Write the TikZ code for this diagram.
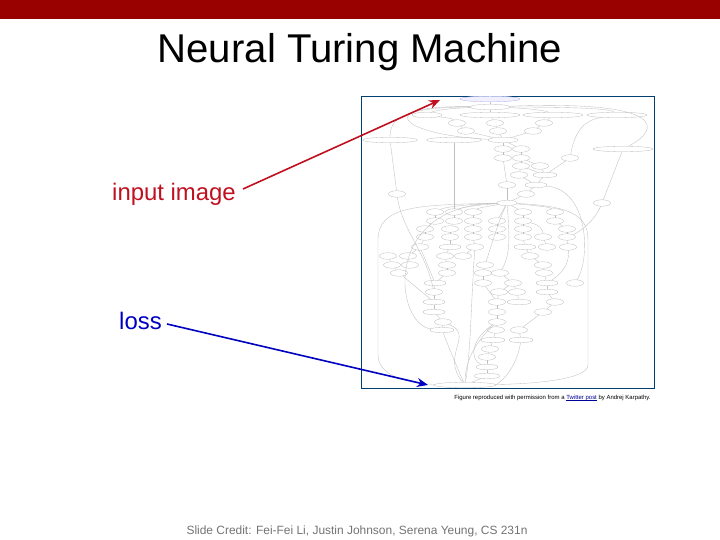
\documentclass[tikz,border=0pt]{standalone}
\usepackage{fontspec}
\setmainfont{Liberation Sans}
\usetikzlibrary{positioning,arrows.meta,shapes.geometric}
\definecolor{calloutred}{RGB}{192,16,32}
\definecolor{calloutblue}{RGB}{0,0,192}

\begin{document}
\begin{tikzpicture}[x=1bp,y=-1bp,>=Stealth,
  gnode/.style={draw=black!28,line width=0.3bp,ellipse,inner sep=0pt,minimum width=17bp,minimum height=6.5bp},
  gwide/.style={gnode,minimum height=5.5bp},
  gedge/.style={draw=black!25,line width=0.35bp},
  callout/.style={line width=1.6bp,-{Stealth[length=11bp,width=9bp]}}]
  \useasboundingbox (0,0) rectangle (720,540);
  \fill[red!60!black] (0,0) rectangle (720,19);
  % labels
  \node (title) at (360,52) {\fontsize{40.3}{44}\selectfont Neural Turing Machine};
  \node[inner sep=2bp,text=calloutred] (inputlabel) at (174,194) {\fontsize{24}{28}\selectfont input image};
  \node[inner sep=2bp,text=calloutblue] (losslabel) at (140.5,321) {\fontsize{24}{28}\selectfont loss};
  \node[text=black!55] (credit) at (357,531) {\fontsize{12}{14}\selectfont Slide Credit: Fei-Fei Li, Justin Johnson, Serena Yeung, CS 231n};
  \node (permission) at (552.5,398) {\fontsize{6}{7}\selectfont Figure reproduced with permission from a \textcolor{blue!60!black}{\underline{\smash{Twitter post}}} by Andrej Karpathy.};
  % frame
  \node[draw=black!60!blue!50!teal,line width=0.8bp,inner sep=0pt,minimum width=293bp,minimum height=292bp] (frame) at (507.5,242) {};
  % wide nodes
  \foreach \nm/\x/\y/\w in {a1/490/99/60,b1/490/107/40,c1/427/115/30,c2/490/115/60,c3/553/115/60,c4/617/115/60,
    f1/390/140/55,f2/454/140/55,f3/503/140/30,g3/623/149/60,j2/545/175/24,k2/536/185/22,m1/507/203/20,G/465/385/62,
    r2/450/247/22,r4/525/247/22,v1/435/283/22,v4/547/283/22,w4/547/292/22,x1/434/302/22,x3/519/302/24,y1/434/312/22,
    A1/442/330/24,B1/493/340/24,B2/521/340/24,E/487/367/22,F/487/376/26}
    \node[gwide,minimum width=\w bp] (\nm) at (\x,\y) {};
  % small nodes
  \foreach \nm/\x/\y in {d1/457/123,d2/495/123,d3/544/123,e1/466/131,e2/498/131,e3/533/131,
    g1/503/149,g2/521/149,h1/503/158,h2/521/158,h3/570/158,i1/521/166,i2/540/166,j1/519/175,k1/507/185,
    l1/397/194,l2/526/194,m2/602/203,n1/435/212,n2/454/212,n3/473/212,n4/523/212,n5/555/212,
    o1/435/221,o2/454/221,o3/473/221,o4/497/221,o5/523/221,o6/555/221,
    p1/425/229,p2/450/229,p3/473/229,p4/497/229,p5/523/229,p6/567/229,
    q1/425/237,q2/450/237,q3/473/237,q4/497/237,q5/523/237,q6/543/237,q7/567/237,
    r1/420/247,r3/475/247,r5/547/247,r6/568/247,
    s1/388/256,s2/408/256,s3/445/256,s4/463/256,s5/530/256,
    t1/392/265,t2/410/265,t3/447/265,t4/485/265,t5/543/265,
    u1/399/273,u2/447/273,u3/483/273,u4/500/273,u5/544/273,
    v2/483/283,v3/513/283,v5/575/283,w1/434/292,w2/499/292,w3/517/292,
    x2/497/302,x4/555/302,y2/497/312,y3/543/312,z1/443/322,z2/497/322,
    A2/496/330,A3/519/330,C/490/349,D/487/357}
    \node[gnode] (\nm) at (\x,\y) {};
  \node[gwide,draw=blue!25,fill=blue!6,minimum width=60bp] at (a1) {};
  % edges
  \foreach \a/\b in {a1/b1,b1/c2,c2/d2,c3/d3,d1/e1,d2/e2,d3/e3,e1/f3,e2/f3,e3/f3,f3/g1,f3/g2,g1/h1,g2/h2,
    h1/k1,h2/i1,h2/i2,i1/j1,i1/j2,i2/j2,h3/j2,j1/k2,j2/k2,k2/l2,l2/m1,k1/m1,g3/m2,f2/n2,f1/l1,m1/n4,m1/o4,
    n1/o1,n2/o2,n3/o3,n4/o5,n5/o6,o1/p1,o2/p2,o3/p3,o4/p4,o5/p5,o6/p6,
    p1/q1,p2/q2,p3/q3,p4/q4,p5/q5,p6/q7,q1/r1,q2/r2,q3/r3,q5/r4,q6/r5,q7/r6,
    r1/s2,r2/s3,r3/s4,r4/s5,s1/t1,s2/t2,s3/t3,s5/t5,t1/u1,t3/u2,t4/u3,t5/u5,
    u2/v1,u3/v2,u4/v3,u5/v4,v1/w1,v3/w2,v3/w3,v4/w4,w1/x1,x1/y1,y1/z1,z1/A1,u1/x1,
    w2/x2,w3/x3,x2/y2,v2/x2,y2/z2,z2/A2,w4/x4,x4/y3,y3/A3,A2/B1,A3/B2,B1/C,C/D,D/E,E/F,F/G,r1/v1}
    \draw[gedge] (\a) -- (\b);
  % long curved edges
  \foreach \a/\b/\p/\q/\r/\s in {b1/c1/455/108/435/110,b1/c3/520/108/545/110,b1/c4/560/107/610/108,
    c1/d1/440/117/452/118,b1/f1/400/107/390/120,b1/f3/370/105/400/135,c4/h3/585/120/575/130,
    b1/g3/670/100/660/130,l1/w1/402/230/425/250,m2/q7/595/220/580/232,
    m1/A1/380/205/395/325,k2/v5/590/190/590/260,
    m1/n1/470/204/445/207,m1/n2/475/205/460/208,m1/n3/490/206/478/208,m1/n5/540/206/550/207,
    m1/t4/497/225/490/250,m1/u4/510/240/510/255,o5/q6/540/225/543/230,r6/v4/570/265/560/275,
    B2/G/515/375/495/385,z1/G/475/335/440/355,A1/G/450/350/458/370,z2/E/470/340/470/360,
    z2/G/472/345/465/365,r3/G/471/300/471/350}
    \draw[gedge] (\a) .. controls (\p,\q) and (\r,\s) .. (\b);
  % outer loops
  \draw[gedge] (m1) .. controls (420,205) and (378,205) .. (378,240) -- (378,355) .. controls (378,380) and (420,384) .. (G);
  \draw[gedge] (m1) .. controls (570,206) and (588,215) .. (588,240) -- (588,365) .. controls (588,380) and (530,384) .. (G);
  % callouts
  \coordinate (inputtip) at (440,100);
  \coordinate (losstip) at (428,385);
  \draw[callout,calloutred] ([shift={(5,-5)}]inputlabel.east) -- (inputtip);
  \draw[callout,calloutblue] ([shift={(3,3)}]losslabel.east) -- (losstip);
\end{tikzpicture}
\end{document}
